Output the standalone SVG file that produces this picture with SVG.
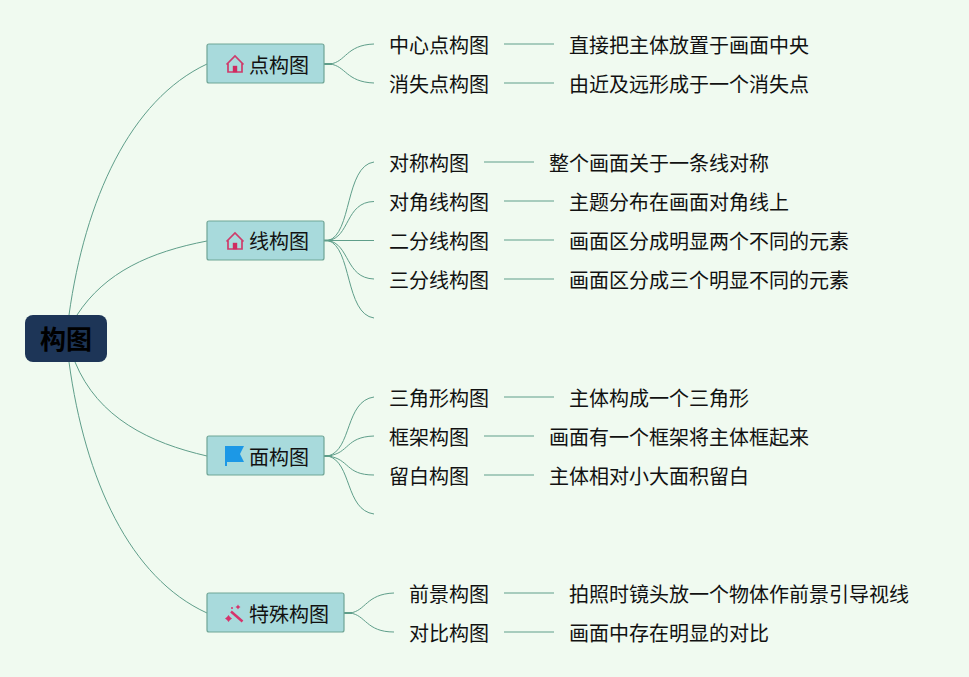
<svg xmlns="http://www.w3.org/2000/svg" width="969" height="677" viewBox="0 0 969 677">
<style>
text{font-family:"Noto Sans CJK SC","Noto Sans",sans-serif;font-size:20px;fill:#111}
.n{fill:#a8dadc;stroke:#6fa596;stroke-width:1.200}
.c{fill:none;stroke:#5f9e8a;stroke-width:1}
.s{fill:none;stroke:#5f9e8a;stroke-width:2}
.h{fill:none;stroke:#cf3b6b;stroke-width:1.700}
.hd{fill:#cf2b60}
</style>
<defs>
<g id="home"><path class="h" d="M-8.500 0.500L0 -8L8.500 0.500M-7 -1V8H7V-1"/><rect class="hd" x="-2.200" y="1.800" width="4.400" height="6.500"/></g>
</defs>
<rect width="969" height="677" fill="#f0faf0"/>
<g id="connectors">
<path class="c" d="M69 315C85 200 130 100 207 64"/>
<path class="c" d="M77 315C105 272 150 252 207 241"/>
<path class="c" d="M75 362C98 418 150 443 207 456"/>
<path class="c" d="M69 362C85 480 130 578 207 613"/>
<path class="s" d="M324 64H332"/>
<path class="c" d="M330 64C346 62 346 45 374 44"/>
<path class="c" d="M330 64C346 66 346 82 374 83"/>
<path class="s" d="M324 240.500H332"/>
<path class="c" d="M328 240.500C352 235 345 166 374 162"/>
<path class="c" d="M328 240.500C350 238 345 202 374 201.500"/>
<path class="c" d="M328 240.500H374"/>
<path class="c" d="M328 240.500C350 244 345 278 374 279"/>
<path class="c" d="M328 240.500C352 247 345 314 374 318"/>
<path class="s" d="M324 456H332"/>
<path class="c" d="M328 456C352 450 345 401 374 397"/>
<path class="c" d="M328 456C350 453 345 437 374 436"/>
<path class="c" d="M328 456C350 459 345 475 374 475"/>
<path class="c" d="M328 456C352 462 345 510 374 514"/>
<path class="s" d="M344 613H352"/>
<path class="c" d="M350 613C366 611 366 594 394 593"/>
<path class="c" d="M350 613C366 615 366 632 394 632"/>
<path class="c" d="M504 44H554M504 83H554M484 162H534M504 201H554M504 240H554M504 279H554M504 397H554M484 436H534M484 475H534M504 593H554M504 632H554"/>
</g>
<g id="root"><rect x="25" y="315" width="82" height="47" rx="8" fill="#1d3557"/><text x="66" y="349" text-anchor="middle" font-weight="700" style="font-size:26px;fill:#000">构图</text></g>
<g id="n1"><rect class="n" x="207" y="44" width="117" height="39" rx="2"/><use href="#home" x="235" y="64"/><text x="249" y="73">点构图</text></g>
<g id="n2"><rect class="n" x="207" y="221" width="117" height="39" rx="2"/><use href="#home" x="235" y="241"/><text x="249" y="249">线构图</text></g>
<g id="n3"><rect class="n" x="207" y="436" width="117" height="39" rx="2"/><path d="M225 446H244L240 454L244 462H227V466H225Z" fill="#1c98e6"/><text x="249" y="465">面构图</text></g>
<g id="n4"><rect class="n" x="207" y="593" width="137" height="39" rx="2"/><path d="M231 611.500L242.500 621.500" stroke="#d6336c" stroke-width="2.500" fill="none"/><path d="M228.500 615l1.500 2 2 1.500-2 1.500-1.500 2-1.500-2-2-1.500 2-1.500zM238 604.500l.9 1.600 1.600.9-1.600.9-.9 1.600-.9-1.600-1.600-.9 1.600-.9z" fill="#d6336c"/><circle cx="232" cy="608" r="1" fill="#d6336c"/><text x="249" y="622">特殊构图</text></g>
<g id="l1"><text x="389" y="53">中心点构图</text><text x="569" y="53">直接把主体放置于画面中央</text></g>
<g id="l2"><text x="389" y="92">消失点构图</text><text x="569" y="92">由近及远形成于一个消失点</text></g>
<g id="l3"><text x="389" y="171">对称构图</text><text x="549" y="171">整个画面关于一条线对称</text></g>
<g id="l4"><text x="389" y="210">对角线构图</text><text x="569" y="210">主题分布在画面对角线上</text></g>
<g id="l5"><text x="389" y="249">二分线构图</text><text x="569" y="249">画面区分成明显两个不同的元素</text></g>
<g id="l6"><text x="389" y="288">三分线构图</text><text x="569" y="288">画面区分成三个明显不同的元素</text></g>
<g id="l7"><text x="389" y="406">三角形构图</text><text x="569" y="406">主体构成一个三角形</text></g>
<g id="l8"><text x="389" y="445">框架构图</text><text x="549" y="445">画面有一个框架将主体框起来</text></g>
<g id="l9"><text x="389" y="484">留白构图</text><text x="549" y="484">主体相对小大面积留白</text></g>
<g id="l10"><text x="409" y="602">前景构图</text><text x="569" y="602">拍照时镜头放一个物体作前景引导视线</text></g>
<g id="l11"><text x="409" y="641">对比构图</text><text x="569" y="641">画面中存在明显的对比</text></g>
</svg>
